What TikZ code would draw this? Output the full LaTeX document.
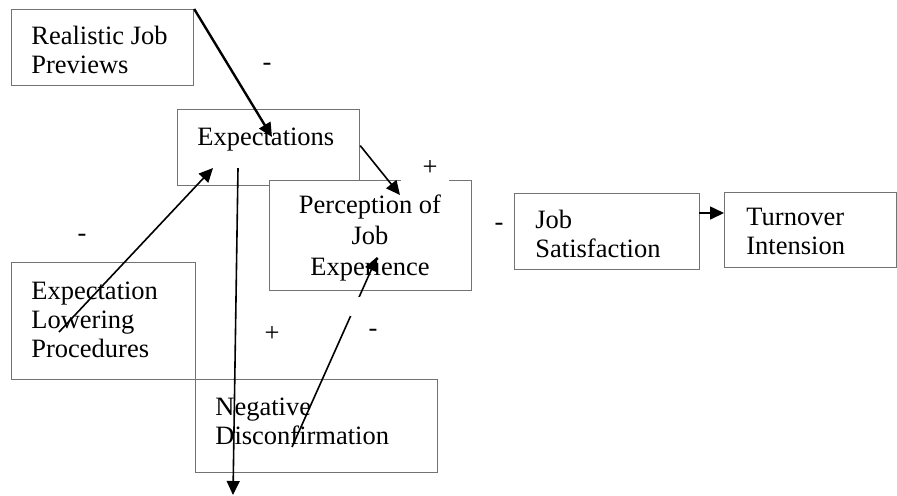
\documentclass[tikz,border=0pt]{standalone}
\usepackage{fontspec}
\setmainfont{Liberation Serif}
\usetikzlibrary{arrows.meta,positioning,calc}

\tikzset{
  box/.style={draw=black!55, line width=0.6pt, fill=white, anchor=north west, inner sep=0pt},
  txt/.style={anchor=base west, align=left, inner sep=0pt, font=\fontsize{13.25pt}{14.5pt}\selectfont},
  sign/.style={inner sep=0pt, font=\fontsize{13.25pt}{14.5pt}\selectfont},
  link/.style={-{Triangle[length=7pt,width=6.5pt]}, line width=0.8pt},
}

\begin{document}
\begin{tikzpicture}[x=0.5pt, y=-0.5pt]
    \useasboundingbox (0,0) rectangle (897,495);

    % boxes
    \node[box, minimum width=91pt, minimum height=38pt] (rjp) at (11,9) {};
    \node[box, minimum width=91pt, minimum height=38pt] (expc) at (177,109) {};
    \node[box, minimum width=101pt, minimum height=55pt] (pje) at (269,180) {};
    \node[box, minimum width=92.5pt, minimum height=38pt] (jsat) at (514,193) {};
    \node[box, minimum width=86pt, minimum height=37.5pt] (turn) at (724,192) {};
    \node[box, minimum width=92pt, minimum height=58.5pt] (elp) at (11,262) {};
    \node[box, minimum width=121pt, minimum height=46.5pt] (ndis) at (195,379) {};

    % texts (base = last line)
    \node[txt] (rjptxt) at (31,73) {Realistic Job\\Previews};
    \node[txt] (expctxt) at (197,145) {Expectations};
    \node[txt, anchor=base, align=center, font=\fontsize{13.25pt}{15.5pt}\selectfont] (pjetxt) at (370,275) {Perception of\\Job\\Experience};
    \node[txt] (jsattxt) at (535,257) {Job\\Satisfaction};
    \node[txt] (turntxt) at (746,254) {Turnover\\Intension};
    \node[txt] (elptxt) at (31,357) {Expectation\\Lowering\\Procedures};
    \node[txt] (ndistxt) at (215,444) {Negative\\Disconfirmation};

    % arrow ends
    \coordinate (t1) at (272,137);
    \coordinate (t2) at (400,195);
    \coordinate (s3) at (59,332);
    \coordinate (t3) at (213,168);
    \coordinate (s4) at (238,168);
    \coordinate (t4) at (233,495);
    \coordinate (s5) at (292,447);
    \coordinate (t5) at (377,257);
    \coordinate (s6) at (699,213);
    \coordinate (t6) at (724,213);

    % arrows
    \draw[link, line width=1.2pt] (rjp.north east) -- (t1);
    \draw[link] ($(expc.east)+(0,-2)$) -- (t2);
    \draw[link] (s3) -- (t3);
    \draw[link] (s4) -- (t4);
    \draw[link] (s5) -- (t5);
    \draw[link] (s6) -- (t6);

    % signs
    \fill[white] (401,150) rectangle (449,181.5);
    \fill[white] (350,297) rectangle (400,316);
    \node[sign] (m1) at (267,67) {-};
    \node[sign] (p1) at (430,168) {+};
    \node[sign] (m2) at (499,227) {-};
    \node[sign] (m3) at (82,238) {-};
    \node[sign] (p2) at (272,334) {+};
    \node[sign] (m4) at (373,333) {-};
\end{tikzpicture}
\end{document}
